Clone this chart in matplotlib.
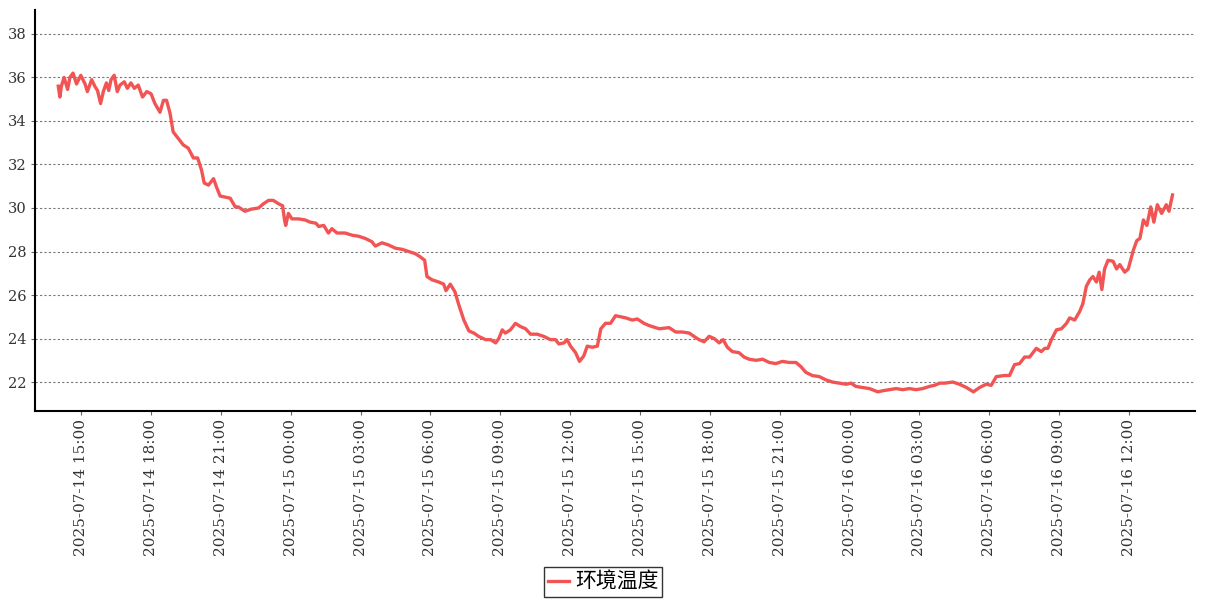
import pandas as pd
import matplotlib
matplotlib.use('Agg')
import matplotlib.pyplot as plt
import matplotlib.dates as mdates

# minutes after 2025-07-14 14:00 and temperature
start = pd.Timestamp('2025-07-14 14:00')
minutes = [1, 5, 9, 16, 25, 31, 39, 48, 59, 70, 76, 87, 95, 102, 110, 117, 125, 131, 137, 145,
           153, 160, 171, 179, 188, 197, 207, 218, 229, 240, 250, 263, 272, 280, 289, 297, 310, 323, 336, 349,
           360, 370, 377, 388, 401, 409, 418, 431, 444, 457, 465, 482, 499, 517, 530, 543, 555, 568, 579, 584,
           587, 594, 603, 620, 637, 650, 665, 672, 685, 697, 706, 719, 740, 758, 775, 792, 809, 818, 835, 852,
           870, 887, 904, 921, 934, 945, 951, 964, 981, 994, 1000, 1011, 1023, 1033, 1046, 1059, 1072, 1084, 1102, 1115,
           1128, 1136, 1145, 1153, 1166, 1179, 1192, 1205, 1218, 1235, 1252, 1269, 1282, 1291, 1304, 1312, 1321, 1334, 1344, 1355,
           1364, 1377, 1390, 1399, 1411, 1424, 1437, 1450, 1463, 1480, 1493, 1510, 1523, 1549, 1575, 1592, 1609, 1627, 1639, 1652,
           1665, 1678, 1691, 1704, 1714, 1725, 1738, 1755, 1768, 1781, 1799, 1816, 1833, 1850, 1867, 1884, 1902, 1915, 1927, 1944,
           1962, 1979, 1996, 2013, 2031, 2044, 2056, 2074, 2091, 2113, 2125, 2143, 2160, 2177, 2194, 2211, 2228, 2246, 2259, 2272,
           2284, 2306, 2323, 2341, 2359, 2375, 2392, 2405, 2418, 2439, 2452, 2465, 2478, 2491, 2504, 2521, 2534, 2543, 2551, 2560,
           2573, 2586, 2599, 2607, 2620, 2633, 2641, 2650, 2659, 2667, 2676, 2683, 2690, 2697, 2706, 2719, 2728, 2736, 2749, 2758,
           2771, 2780, 2788, 2797, 2806, 2816, 2824, 2833, 2844, 2856, 2863, 2872]
temps = [35.6, 35.1, 35.6, 36.0, 35.45, 36.0, 36.2, 35.7, 36.1, 35.7, 35.35, 35.9, 35.6, 35.4, 34.8, 35.35, 35.75, 35.4, 35.9, 36.1,
         35.35, 35.65, 35.8, 35.5, 35.75, 35.5, 35.65, 35.1, 35.35, 35.25, 34.8, 34.4, 34.95, 34.95, 34.35, 33.5, 33.2, 32.9, 32.75, 32.3,
         32.3, 31.75, 31.15, 31.05, 31.35, 30.95, 30.55, 30.5, 30.45, 30.05, 30.05, 29.85, 29.95, 30.0, 30.2, 30.35, 30.35, 30.2, 30.1, 29.45,
         29.2, 29.75, 29.5, 29.5, 29.45, 29.35, 29.3, 29.15, 29.2, 28.85, 29.05, 28.85, 28.85, 28.75, 28.7, 28.6, 28.45, 28.25, 28.4, 28.3,
         28.15, 28.1, 28.0, 27.9, 27.75, 27.6, 26.85, 26.7, 26.6, 26.5, 26.2, 26.5, 26.15, 25.55, 24.85, 24.35, 24.25, 24.1, 23.95, 23.95,
         23.8, 24.0, 24.4, 24.25, 24.4, 24.7, 24.55, 24.45, 24.2, 24.2, 24.1, 23.95, 23.95, 23.75, 23.8, 23.95, 23.65, 23.35, 22.95, 23.2,
         23.65, 23.6, 23.65, 24.45, 24.7, 24.7, 25.05, 25.0, 24.95, 24.85, 24.9, 24.7, 24.6, 24.45, 24.5, 24.3, 24.3, 24.25, 24.1, 23.95,
         23.85, 24.1, 24.0, 23.8, 23.95, 23.6, 23.4, 23.35, 23.15, 23.05, 23.0, 23.05, 22.9, 22.85, 22.95, 22.9, 22.9, 22.7, 22.45, 22.3,
         22.25, 22.1, 22.0, 21.95, 21.9, 21.95, 21.8, 21.75, 21.7, 21.55, 21.6, 21.65, 21.7, 21.65, 21.7, 21.65, 21.7, 21.8, 21.85, 21.95,
         21.95, 22.0, 21.9, 21.75, 21.55, 21.75, 21.9, 21.85, 22.25, 22.3, 22.3, 22.8, 22.85, 23.15, 23.15, 23.55, 23.4, 23.55, 23.55, 23.95,
         24.4, 24.45, 24.7, 24.95, 24.85, 25.25, 25.6, 26.4, 26.7, 26.85, 26.6, 27.05, 26.25, 27.2, 27.6, 27.55, 27.2, 27.4, 27.05, 27.2,
         28.05, 28.5, 28.6, 29.45, 29.2, 30.05, 29.35, 30.15, 29.75, 30.15, 29.85, 30.6]
y_ticks = [22, 24, 26, 28, 30, 32, 34, 36, 38]
series_name = '环境温度'

times = [start + pd.Timedelta(minutes=m) for m in minutes]

fig = plt.figure(figsize=(12.07, 6.0), dpi=100)
ax = fig.add_axes([35 / 1207, 189 / 600, 1160 / 1207, 401 / 600])

ax.plot(times, temps, color='#f25454', lw=2.4, label=series_name)

ax.set_xlim(start + pd.Timedelta(minutes=-59), start + pd.Timedelta(minutes=2930))
ax.set_ylim(20.67, 39.1)
ax.set_yticks(y_ticks)
ax.yaxis.grid(True, linestyle=(0, (2, 2)), color='#777777', lw=0.8)

ax.xaxis.set_major_locator(mdates.HourLocator(byhour=range(0, 24, 3)))
ax.xaxis.set_major_formatter(mdates.DateFormatter('%Y-%m-%d %H:%M'))

for lbl in ax.get_xticklabels():
    lbl.set_rotation(90)
    lbl.set_fontfamily('DejaVu Serif')
    lbl.set_fontsize(11)
    lbl.set_color('#333333')
for lbl in ax.get_yticklabels():
    lbl.set_fontfamily('DejaVu Serif')
    lbl.set_fontsize(10.5)
    lbl.set_color('#333333')

ax.spines['top'].set_visible(False)
ax.spines['right'].set_visible(False)
ax.spines['left'].set_linewidth(1.5)
ax.spines['bottom'].set_linewidth(1.5)
ax.tick_params(axis='both', length=3, width=0.8, color='#666666', pad=3)

leg = fig.legend(loc='center', bbox_to_anchor=(603 / 1207, 1 - 582 / 600),
                 prop={'family': ['Noto Sans CJK SC', 'DejaVu Sans'], 'size': 15},
                 frameon=True, fancybox=False, handlelength=1.0, handletextpad=0.3,
                 borderpad=0.2, borderaxespad=0)
leg.get_frame().set_edgecolor('black')
leg.get_frame().set_linewidth(1.0)

fig.savefig('out.png', dpi=100)
